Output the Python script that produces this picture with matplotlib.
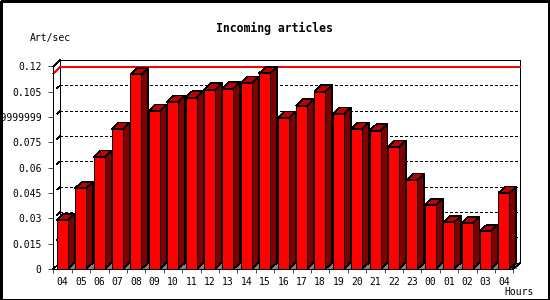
import matplotlib
matplotlib.use("Agg")
import matplotlib.pyplot as plt
from matplotlib.patches import Polygon, Rectangle

# ---- data ----
hours = ["04", "05", "06", "07", "08", "09", "10", "11", "12", "13", "14", "15",
         "16", "17", "18", "19", "20", "21", "22", "23", "00", "01", "02", "03", "04"]
articles_per_sec = [0.0289, 0.0479, 0.0664, 0.0830, 0.1154, 0.0937, 0.0990, 0.1016,
                    0.1063, 0.1069, 0.1103, 0.1160, 0.0895, 0.0968, 0.1051, 0.0919,
                    0.0830, 0.0820, 0.0723, 0.0527, 0.0378, 0.0277, 0.0271, 0.0224,
                    0.0450]
y_ticks = [0, 0.015, 0.03, 0.045, 0.06, 0.075, 0.09, 0.105, 0.12]
y_tick_labels = ["0", "0.015", "0.03", "0.045", "0.06", "0.075",
                 "0.08999999999999999", "0.105", "0.12"]
title = "Incoming articles"
y_unit = "Art/sec"
x_unit = "Hours"

# ---- layout ----
W, H = 550, 300
PX = 0.5   # thin crisp line width (points) for non-antialiased drawing
mono = "DejaVu Sans Mono"
small = 7.0
AA = False

fig = plt.figure(figsize=(W / 100, H / 100), dpi=100)
fig.patches.append(Rectangle((0.5 / W, 0.5 / H), 548.5 / W, 298.5 / H,
                             transform=fig.transFigure, fill=False,
                             ec="black", lw=1.0, antialiased=AA))

ax_left, ax_right = 53.3, 513.3
ax_top, ax_bottom = 66.5, 269.0
ax = fig.add_axes([ax_left / W, (H - ax_bottom) / H,
                   (ax_right - ax_left) / W, (ax_bottom - ax_top) / H])
ax.patch.set_visible(False)
n = len(hours)
ymax = y_ticks[-1]
ax.set_xlim(0, n)
ax.set_ylim(0, ymax)

# 3-D depth offset, 7 px right and 6.5 px up, in data units
DX = 7.0 / (ax_right - ax_left) * n
DY = 6.5 / (ax_bottom - ax_top) * ymax


def seg(xs, ys, z=1, **kw):
    kw.setdefault("color", "black")
    ax.plot(xs, ys, lw=PX, clip_on=False, zorder=z, antialiased=AA, **kw)


# back wall
ax.add_patch(Rectangle((DX, DY), n, ymax, fill=False, ec="black", lw=PX,
                       clip_on=False, zorder=1, antialiased=AA))
for t in y_ticks[1:-1]:
    seg([DX, n + DX], [t + DY, t + DY], dashes=(2.9, 2.9))
    seg([DX * 0.55, DX], [t + DY * 0.55, t + DY])
# floor / frame diagonals
seg([0, DX], [ymax, ymax + DY])
seg([0, DX], [0, DY])
seg([n, n + DX], [0, DY], z=6)

# max line
m = max(articles_per_sec)
seg([0, DX, n + DX], [m, m + DY, m + DY], z=2, color="#ff0000")

# bars
bw = 0.6
off = 0.185
for i, v in enumerate(articles_per_sec):
    x0 = i + off
    x1 = x0 + bw
    ax.add_patch(Polygon([(x1, 0), (x1 + DX, DY), (x1 + DX, 0)], closed=True,
                         fc="#808080", ec="none", clip_on=False, zorder=3,
                         antialiased=AA))
    ax.add_patch(Polygon([(x1, 0), (x1 + DX, DY), (x1 + DX, v + DY), (x1, v)],
                         closed=True, fc="#800000", ec="black", lw=PX,
                         clip_on=False, zorder=4, antialiased=AA))
    ax.add_patch(Polygon([(x0, v), (x0 + DX, v + DY), (x1 + DX, v + DY), (x1, v)],
                         closed=True, fc="#c00000", ec="black", lw=PX,
                         clip_on=False, zorder=4, antialiased=AA))
    ax.add_patch(Rectangle((x0, 0), bw, v, fc="#ff0000", ec="black", lw=PX,
                           clip_on=False, zorder=5, antialiased=AA))

# axes
for s in ("top", "right"):
    ax.spines[s].set_visible(False)
for s in ("left", "bottom"):
    ax.spines[s].set_linewidth(PX)
    ax.spines[s].set_zorder(6)
    ax.spines[s].set_antialiased(AA)

ax.set_yticks(y_ticks)
ax.set_yticklabels(y_tick_labels, fontfamily=mono, fontsize=small)
ax.tick_params(axis="y", length=3.6, width=PX, pad=4.8)

ax.set_xticks([i + 0.5 for i in range(n)])
ax.set_xticklabels(hours, fontfamily=mono, fontsize=small)
ax.set_xticks(range(n + 1), minor=True)
ax.tick_params(axis="x", which="major", length=0, pad=5.5)
ax.tick_params(axis="x", which="minor", length=2.9, width=PX)

fig.text(274 / W, 1 - 28 / H, title, ha="center", va="center",
         fontfamily=mono, fontweight="bold", fontsize=8.3)
fig.text(30 / W, 1 - 38.5 / H, y_unit, ha="left", va="center",
         fontfamily=mono, fontsize=small)
fig.text(504 / W, 1 - 292 / H, x_unit, ha="left", va="center",
         fontfamily=mono, fontsize=small)

fig.savefig("out.png", dpi=100)
